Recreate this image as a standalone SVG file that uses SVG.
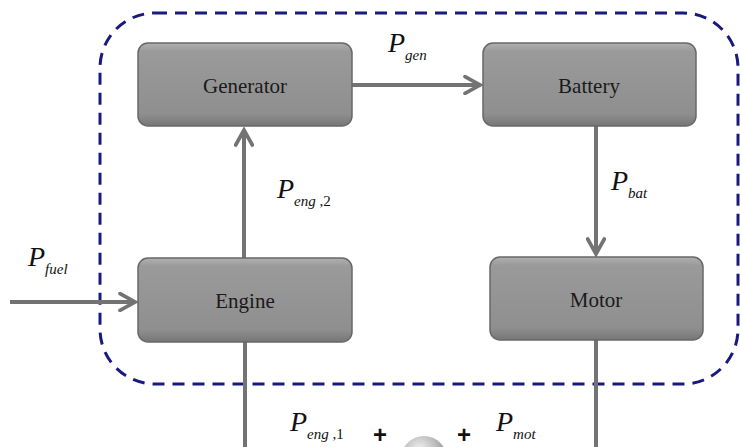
<svg xmlns="http://www.w3.org/2000/svg" width="740" height="447" viewBox="0 0 740 447">
<style>
.box{fill:url(#g);stroke:#686868;stroke-width:1.5}
.lbl{font-family:"Liberation Serif","DejaVu Serif",serif;font-size:21px;fill:#1a1a1a;text-anchor:middle}
.conn{stroke:#737373;stroke-width:4;fill:none}
.P{font-family:"Liberation Serif","DejaVu Serif",serif;font-style:italic;font-size:28px;fill:#111}
.s{font-size:15px}
.plus{font-family:"Liberation Sans",sans-serif;font-weight:bold;font-size:24px;fill:#111}
</style>
<defs>
<linearGradient id="g" x1="0" y1="0" x2="0" y2="1">
<stop offset="0" stop-color="#b0b0b0"/>
<stop offset="0.1" stop-color="#9a9a9a"/>
<stop offset="0.85" stop-color="#8f8f8f"/>
<stop offset="1" stop-color="#767676"/>
</linearGradient>
<radialGradient id="sph" cx="0.4" cy="0.3" r="0.7">
<stop offset="0" stop-color="#f2f2f2"/>
<stop offset="1" stop-color="#8a8a8a"/>
</radialGradient>
<marker id="ah" viewBox="0 0 12 12" refX="10" refY="6" markerWidth="5" markerHeight="5" orient="auto" markerUnits="strokeWidth">
<path d="M1,1 L10,6 L1,11" fill="none" stroke="#737373" stroke-width="2.2" stroke-linecap="round"/>
</marker>
</defs>
<rect x="100" y="13" width="638" height="371" rx="55" ry="55" fill="none" stroke="#1a1a7e" stroke-width="3" stroke-dasharray="12 8"/>
<g id="connectors">
<line class="conn" x1="244" y1="258" x2="244" y2="130" marker-end="url(#ah)"/>
<line class="conn" x1="352" y1="85" x2="480" y2="85" marker-end="url(#ah)"/>
<line class="conn" x1="596" y1="126" x2="596" y2="254" marker-end="url(#ah)"/>
<line class="conn" x1="10" y1="302" x2="135" y2="302" marker-end="url(#ah)"/>
<line class="conn" x1="245" y1="342" x2="245" y2="447"/>
<line class="conn" x1="596" y1="340" x2="596" y2="447"/>
</g>
<g id="generator"><rect class="box" x="138" y="43" width="214" height="83" rx="10"/><text class="lbl" x="245" y="93" font-family="Liberation Serif, serif">Generator</text></g>
<g id="battery"><rect class="box" x="483" y="43" width="213" height="83" rx="10"/><text class="lbl" x="589" y="93" font-family="Liberation Serif, serif">Battery</text></g>
<g id="engine"><rect class="box" x="138" y="258" width="214" height="84" rx="10"/><text class="lbl" x="245" y="308" font-family="Liberation Serif, serif">Engine</text></g>
<g id="motor"><rect class="box" x="490" y="257" width="213" height="83" rx="10"/><text class="lbl" x="596" y="307" font-family="Liberation Serif, serif">Motor</text></g>
<g id="sum"><circle cx="424" cy="459" r="23" fill="url(#sph)"/></g>
<text class="P" x="388" y="52">P<tspan class="s" dy="8">gen</tspan></text>
<text class="P" x="277" y="198">P<tspan class="s" dy="8">eng</tspan><tspan class="s" font-style="normal"> ,2</tspan></text>
<text class="P" x="611" y="190">P<tspan class="s" dy="8">bat</tspan></text>
<text class="P" x="28" y="266">P<tspan class="s" dy="8">fuel</tspan></text>
<text class="P" x="290" y="431">P<tspan class="s" dy="8">eng</tspan><tspan class="s" font-style="normal"> ,1</tspan></text>
<text class="plus" x="373" y="443">+</text>
<text class="plus" x="457" y="443">+</text>
<text class="P" x="496" y="431">P<tspan class="s" dy="8">mot</tspan></text>
</svg>
